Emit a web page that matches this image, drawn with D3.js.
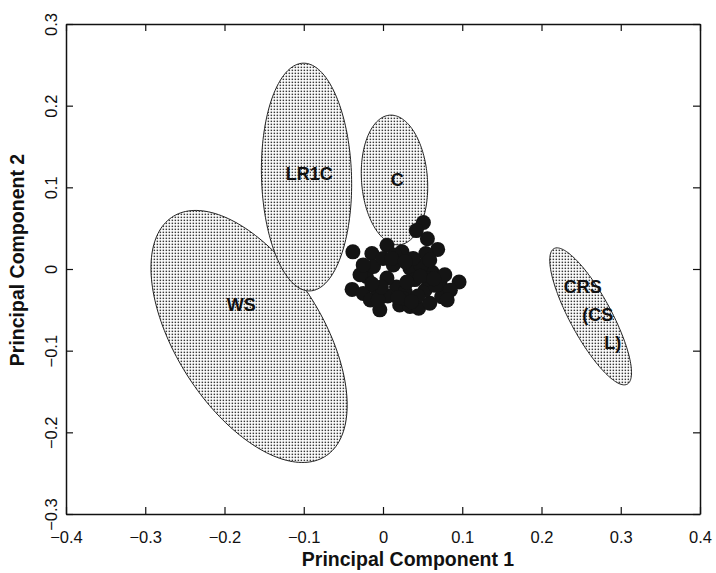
<!DOCTYPE html>
<html>
<head>
<meta charset="utf-8">
<script src="https://cdn.jsdelivr.net/npm/d3@7"></script>
<style>
  html, body { margin: 0; padding: 0; background: #fff; }
  svg { display: block; }
  text { font-family: "Liberation Sans", Arial, Helvetica, sans-serif; fill: #111; }
</style>
</head>
<body>
<svg id="chart" width="716" height="573"></svg>
<script>
// ---------- data ----------
const xTicks = [-0.4, -0.3, -0.2, -0.1, 0, 0.1, 0.2, 0.3, 0.4];
const yTicks = [-0.3, -0.2, -0.1, 0, 0.1, 0.2, 0.3];
const xTitle = "Principal Component 1";
const yTitle = "Principal Component 2";

// group ellipses (data units): centre, semi-axes, orientation (degrees)
const ellipseNames = ["WS", "LR1C", "C", "CRS"];
const ellipseCx    = [-0.169, -0.0965, 0.0145, 0.262];
const ellipseCy    = [-0.0826, 0.1126, 0.109, -0.058];
const ellipseA     = [0.1755, 0.1395, 0.0796, 0.095];
const ellipseB     = [0.0913, 0.0568, 0.0416, 0.026];
const ellipseAngle = [-56.1, 91.8, 94.4, -60.8];

// ellipse labels (data units)
const labelText = ["WS", "LR1C", "C", "CRS", "(CS", "L)"];
const labelX    = [-0.179, -0.093, 0.018, 0.252, 0.271, 0.290];
const labelY    = [-0.044, 0.1175, 0.109, -0.022, -0.056, -0.090];

// sample scores
const scoreX = [-0.038, 0.096, 0.051, 0.042, 0.056, 0.069, 0.054, 0.005, 0.024, -0.014,
                -0.039, -0.025, -0.016, -0.004, 0.074, 0.072, -0.021, -0.012, 0.013, 0.034,
                0.040, 0.017, 0.005, 0.021, 0.034, 0.045, 0.059, -0.009, 0.006, 0.053,
                0.062, 0.048, 0.000, 0.015, 0.038, 0.078, 0.028, -0.006, -0.029, 0.085,
                0.066, 0.044, 0.030, 0.056, -0.002, 0.025, 0.011, 0.028, 0.047, 0.059,
                0.019, -0.014, 0.081, -0.025, 0.036, 0.064];
const scoreY = [0.021, -0.016, 0.057, 0.047, 0.037, 0.024, 0.019, 0.029, 0.021, 0.019,
                -0.025, -0.030, -0.038, -0.050, -0.034, -0.018, -0.009, 0.003, 0.005, 0.001,
                -0.013, -0.022, -0.011, -0.044, -0.046, -0.048, -0.042, -0.023, -0.033, -0.026,
                -0.004, 0.004, 0.013, 0.017, 0.013, -0.007, -0.028, -0.038, -0.007, -0.026,
                -0.020, -0.033, -0.016, -0.012, -0.022, -0.036, 0.013, 0.009, -0.009, 0.011,
                -0.035, -0.018, -0.038, 0.005, -0.040, -0.012];

// ---------- layout ----------
const svg = d3.select("#chart");
const x = d3.scaleLinear().domain([-0.4, 0.4]).range([66, 700]);
const y = d3.scaleLinear().domain([-0.3, 0.3]).range([514, 24]);
const fmt = d3.format("~g");

// stipple pattern
const defs = svg.append("defs");
const pat = defs.append("pattern")
  .attr("id", "stipple").attr("patternUnits", "userSpaceOnUse")
  .attr("width", 3).attr("height", 3);
pat.append("rect").attr("width", 3).attr("height", 3).attr("fill", "#fff");
pat.append("rect").attr("x", 0.6).attr("y", 0.6).attr("width", 1.5).attr("height", 1.5).attr("fill", "#3a3a3a");

// ellipses
const ellData = ellipseNames.map((n, i) => ({
  name: n, cx: ellipseCx[i], cy: ellipseCy[i], a: ellipseA[i], b: ellipseB[i], ang: ellipseAngle[i]
}));
const line = d3.line().x(d => x(d[0])).y(d => y(d[1])).curve(d3.curveLinearClosed);
function ellipsePoints(e) {
  const phi = e.ang * Math.PI / 180, pts = [];
  for (let k = 0; k < 180; k++) {
    const t = k / 180 * 2 * Math.PI;
    const u = e.a * Math.cos(t), v = e.b * Math.sin(t);
    pts.push([e.cx + u * Math.cos(phi) - v * Math.sin(phi),
              e.cy + u * Math.sin(phi) + v * Math.cos(phi)]);
  }
  return pts;
}
svg.append("g").selectAll("path").data(ellData).join("path")
  .attr("d", d => line(ellipsePoints(d)))
  .attr("fill", "url(#stipple)")
  .attr("stroke", "#222").attr("stroke-width", 1);

// labels
svg.append("g").selectAll("text").data(labelText).join("text")
  .attr("x", (d, i) => x(labelX[i]))
  .attr("y", (d, i) => y(labelY[i]))
  .attr("dy", "0.36em")
  .attr("text-anchor", "middle")
  .attr("font-size", 18).attr("font-weight", "bold")
  .text(d => d);

// points
svg.append("g").selectAll("circle").data(scoreX).join("circle")
  .attr("cx", d => x(d))
  .attr("cy", (d, i) => y(scoreY[i]))
  .attr("r", 7.5)
  .attr("fill", "#141414");

// axes
const gb = svg.append("g").attr("transform", `translate(0,${y(-0.3)})`)
  .call(d3.axisBottom(x).tickValues(xTicks).tickFormat(fmt).tickSizeInner(-7).tickSizeOuter(0).tickPadding(17));
const gt = svg.append("g").attr("transform", `translate(0,${y(0.3)})`)
  .call(d3.axisTop(x).tickValues(xTicks).tickFormat("").tickSizeInner(-7).tickSizeOuter(0));
const gl = svg.append("g").attr("transform", `translate(${x(-0.4)},0)`)
  .call(d3.axisLeft(y).tickValues(yTicks).tickFormat(fmt).tickSizeInner(-7).tickSizeOuter(0));
const gr = svg.append("g").attr("transform", `translate(${x(0.4)},0)`)
  .call(d3.axisRight(y).tickValues(yTicks).tickFormat("").tickSizeInner(-7).tickSizeOuter(0));

[gb, gt, gl, gr].forEach(g => {
  g.select(".domain").attr("stroke", "#111").attr("stroke-width", 1.5);
  g.selectAll(".tick line").attr("stroke", "#111").attr("stroke-width", 1.2);
  g.selectAll("text").attr("font-size", 16.5).attr("font-family", "Liberation Sans, Arial, sans-serif").attr("fill", "#111");
});
gl.selectAll(".tick text")
  .attr("x", null).attr("dy", null)
  .attr("text-anchor", "middle")
  .attr("transform", "translate(-9,0) rotate(-90)");

// axis titles
svg.append("text")
  .attr("x", 408).attr("y", 566)
  .attr("text-anchor", "middle")
  .attr("font-size", 19.5).attr("font-weight", "bold")
  .text(xTitle);
svg.append("text")
  .attr("transform", "translate(24,260) rotate(-90)")
  .attr("text-anchor", "middle")
  .attr("font-size", 19.5).attr("font-weight", "bold")
  .text(yTitle);
</script>
</body>
</html>
